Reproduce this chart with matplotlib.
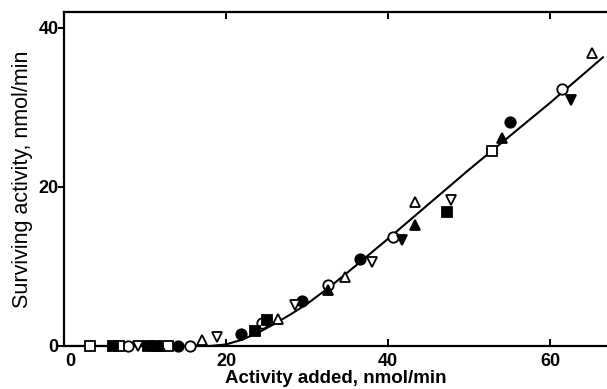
import matplotlib
matplotlib.use("Agg")
import matplotlib.pyplot as plt
import matplotlib.transforms as mtransforms

plt.rcParams['font.family'] = ['Liberation Sans', 'DejaVu Sans']

# Data
open_circle_x = [7.9, 15.6, 24.4, 32.6, 40.6, 61.5]
open_circle_y = [0.0, 0.0, 2.9, 7.7, 13.7, 32.3]
filled_circle_x = [14.1, 21.9, 29.4, 36.5, 55.0]
filled_circle_y = [0.0, 1.5, 5.7, 11.0, 28.2]
open_square_x = [3.2, 6.8, 12.8, 52.8]
open_square_y = [0.0, 0.0, 0.0, 24.5]
filled_square_x = [6.0, 10.4, 11.3, 23.6, 25.0, 47.3]
filled_square_y = [0.0, 0.0, 0.0, 1.9, 3.3, 16.9]
open_tri_up_x = [17.0, 26.4, 34.7, 43.3, 65.1]
open_tri_up_y = [0.7, 3.4, 8.7, 18.1, 36.8]
filled_tri_up_x = [11.9, 32.6, 43.3, 54.0]
filled_tri_up_y = [0.0, 7.0, 15.2, 26.2]
open_tri_down_x = [9.1, 18.9, 28.5, 38.0, 47.7]
open_tri_down_y = [0.0, 1.1, 5.1, 10.6, 18.4]
filled_tri_down_x = [41.7, 62.6]
filled_tri_down_y = [13.3, 30.9]

curve_x = [0, 18, 20, 22, 24, 26, 28, 30, 33, 36, 40, 50, 60, 66.5]
curve_y = [0, 0, 0.2, 0.8, 1.7, 2.8, 4.0, 5.3, 7.6, 10.1, 13.5, 22.2, 30.6, 36.3]

xticks = [0, 20, 40, 60]
yticks = [0, 20, 40]

fig = plt.figure(figsize=(6.07, 3.89), dpi=100)
ax = fig.add_axes([64/607, 43/389, 1 - 64/607, (346-12)/389])

ax.plot(curve_x, curve_y, color='black', lw=1.5, zorder=2)

ms = 7.5
mew = 1.3
kw = dict(linestyle='none', markersize=ms, markeredgewidth=mew, markeredgecolor='black', zorder=3, clip_on=False)
ax.plot(open_circle_x, open_circle_y, marker='o', markerfacecolor='white', **kw)
ax.plot(filled_circle_x, filled_circle_y, marker='o', markerfacecolor='black', **kw)
ax.plot(open_square_x, open_square_y, marker='s', markerfacecolor='white', **kw)
ax.plot(filled_square_x, filled_square_y, marker='s', markerfacecolor='black', **kw)
ax.plot(open_tri_up_x, open_tri_up_y, marker='^', markerfacecolor='white', **kw)
ax.plot(filled_tri_up_x, filled_tri_up_y, marker='^', markerfacecolor='black', **kw)
ax.plot(open_tri_down_x, open_tri_down_y, marker='v', markerfacecolor='white', **kw)
ax.plot(filled_tri_down_x, filled_tri_down_y, marker='v', markerfacecolor='black', **kw)

ax.set_xlim(0, 67)
ax.set_ylim(0, 42)
ax.spines['right'].set_visible(False)
for s in ['top', 'left', 'bottom']:
    ax.spines[s].set_linewidth(1.6)

ax.set_xticks(xticks)
ax.set_yticks(yticks)
ax.set_xticklabels([str(v) for v in xticks], fontweight='bold', fontsize=13)
ax.set_yticklabels([str(v) for v in yticks], fontweight='bold', fontsize=13)
ax.tick_params(axis='x', direction='in', top=True, length=5, width=1.4, pad=5)
ax.tick_params(axis='y', direction='out', length=4, width=1.4, pad=0)

# shift the x "0" label slightly right as in the reference
lbl0 = ax.get_xticklabels()[0]
lbl0.set_transform(lbl0.get_transform() + mtransforms.ScaledTranslation(6/100, 0, fig.dpi_scale_trans))

ax.set_xlabel('Activity added, nmol/min', fontweight='bold', fontsize=13.5, labelpad=0)
ax.set_ylabel('Surviving activity, nmol/min', fontweight='normal', fontsize=15.5, labelpad=4)

fig.savefig('out.png', dpi=100)
